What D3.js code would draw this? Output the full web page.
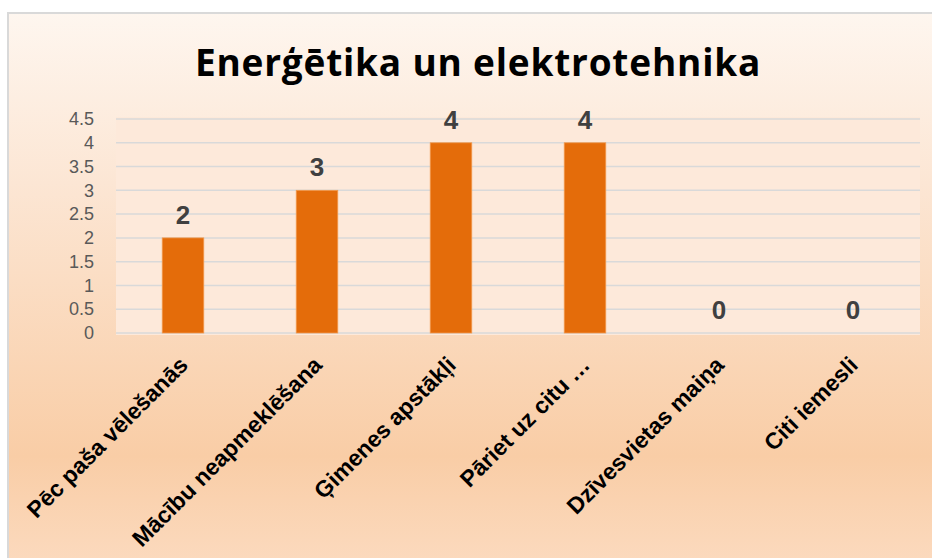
<!DOCTYPE html>
<html>
<head>
<meta charset="utf-8">
<script src="https://cdn.jsdelivr.net/npm/d3@7"></script>
<style>
    body { margin: 0; background: #ffffff; }
    svg { display: block; }
</style>
</head>
<body>
<svg id="chart"></svg>
<script>
// chart data
const title = 'Enerģētika un elektrotehnika';
const categories = [
    'Pēc paša vēlešanās',
    'Mācību neapmeklēšana',
    'Ģimenes apstākļi',
    'Pāriet uz citu …',
    'Dzīvesvietas maiņa',
    'Citi iemesli'
];
const values = [2, 3, 4, 4, 0, 0];
const yTicks = [0, 0.5, 1, 1.5, 2, 2.5, 3, 3.5, 4, 4.5];

const width = 932;
const height = 558;
const plot = { left: 116, right: 920, top: 119, bottom: 333 };

const svg = d3.select('#chart')
    .attr('width', width)
    .attr('height', height);

const defs = svg.append('defs');
const grad = defs.append('linearGradient')
    .attr('id', 'bg')
    .attr('x1', 0).attr('y1', 0)
    .attr('x2', 0).attr('y2', 1);
grad.append('stop').attr('offset', '0%').attr('stop-color', '#fef6ef');
grad.append('stop').attr('offset', '30%').attr('stop-color', '#fce6d4');
grad.append('stop').attr('offset', '78%').attr('stop-color', '#f9cda6');
grad.append('stop').attr('offset', '100%').attr('stop-color', '#fcdcc2');

// chart frame (runs past the right and bottom edges)
svg.append('rect')
    .attr('x', 8)
    .attr('y', 13)
    .attr('width', width + 10)
    .attr('height', height + 10)
    .attr('fill', 'url(#bg)')
    .attr('stroke', '#d9d9d9')
    .attr('stroke-width', 2);

svg.append('rect')
    .attr('x', plot.left)
    .attr('y', plot.top - 2)
    .attr('width', plot.right - plot.left)
    .attr('height', plot.bottom - plot.top + 4)
    .attr('fill', '#fde9da');

svg.append('text')
    .attr('x', 478)
    .attr('y', 76)
    .attr('text-anchor', 'middle')
    .attr('font-family', '"Open Sans", sans-serif')
    .attr('font-weight', 'bold')
    .attr('font-size', 37)
    .attr('letter-spacing', 0.8)
    .attr('fill', '#000000')
    .text(title);

const x = d3.scaleBand()
    .domain(categories)
    .range([plot.left, plot.right]);

const y = d3.scaleLinear()
    .domain([0, 4.5])
    .range([plot.bottom, plot.top]);

// gridlines
svg.append('g')
    .selectAll('line')
    .data(yTicks)
    .enter().append('line')
    .attr('x1', plot.left)
    .attr('x2', plot.right)
    .attr('y1', d => y(d))
    .attr('y2', d => y(d))
    .attr('stroke', '#d9d9d9')
    .attr('stroke-width', 1.5);

// y axis labels
const yAxis = svg.append('g')
    .attr('transform', `translate(${plot.left - 22},0)`)
    .call(d3.axisLeft(y).tickValues(yTicks).tickSize(0).tickPadding(0).tickFormat(d3.format('')));
yAxis.select('.domain').remove();
yAxis.selectAll('text')
    .attr('font-family', '"Liberation Sans", Arial, sans-serif')
    .attr('font-size', 18)
    .attr('fill', '#595959');

// bars
const barW = x.bandwidth() * 0.31;
svg.append('g')
    .selectAll('rect')
    .data(values)
    .enter().append('rect')
    .attr('x', (d, i) => x(categories[i]) + x.bandwidth() / 2 - barW / 2)
    .attr('y', d => y(d))
    .attr('width', barW)
    .attr('height', d => y(0) - y(d))
    .attr('fill', '#e46c0a')
    .attr('stroke', '#f29a4e')
    .attr('stroke-width', 0.8);

// data labels
svg.append('g')
    .selectAll('text')
    .data(values)
    .enter().append('text')
    .attr('x', (d, i) => x(categories[i]) + x.bandwidth() / 2)
    .attr('y', d => y(d) - 14)
    .attr('text-anchor', 'middle')
    .attr('font-family', '"Liberation Sans", Arial, sans-serif')
    .attr('font-weight', 'bold')
    .attr('font-size', 26)
    .attr('fill', '#404040')
    .text(d => d);

// category labels, rotated
svg.append('g')
    .selectAll('text')
    .data(categories)
    .enter().append('text')
    .attr('transform', d => `translate(${x(d) + x.bandwidth() / 2 - 5},${plot.bottom + 22}) rotate(-45)`)
    .attr('text-anchor', 'end')
    .attr('dy', '0.7em')
    .attr('font-family', '"Liberation Sans", Arial, sans-serif')
    .attr('font-weight', 'bold')
    .attr('font-size', 23)
    .attr('fill', '#000000')
    .text(d => d);
</script>
</body>
</html>
